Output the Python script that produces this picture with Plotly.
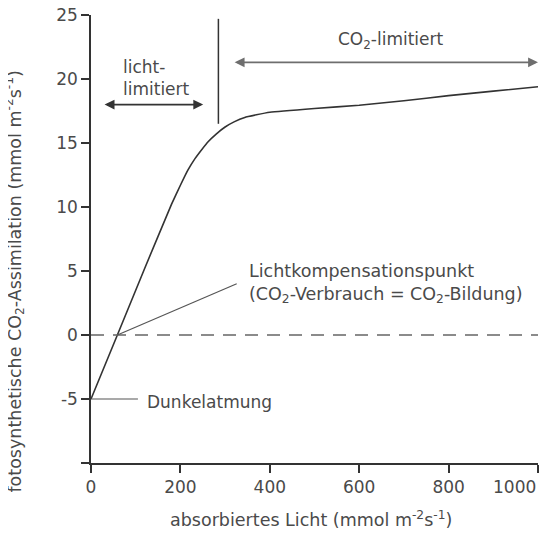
import plotly.graph_objects as go

# light response curve
light = [0, 59, 120, 180, 200, 217, 233, 248, 262, 280, 300, 320, 344, 370, 400,
         500, 600, 700, 800, 900, 1000]
assimilation = [-5, 0, 5.2, 10.2, 11.7, 12.9, 13.8, 14.5, 15.1, 15.7, 16.25, 16.65,
                17.0, 17.2, 17.4, 17.7, 17.95, 18.3, 18.7, 19.05, 19.4]

x_ticks = [0, 200, 400, 600, 800, 1000]
x_ticktext = ["0", "200", "400", "600", "800", ""]  # 1000 placed separately, right-aligned
y_ticks = [-10, -5, 0, 5, 10, 15, 20, 25]
y_ticktext = ["", "-5", "0", "5", "10", "15", "20", "25"]

comp_point = (59, 0)
dark_resp = -5
limit_border = 285

FONT = "DejaVu Sans"
TEXT = "#4a4a4a"
LINE = "#333333"

fig = go.Figure()
fig.add_trace(go.Scatter(
    x=light, y=assimilation, mode="lines",
    line=dict(color=LINE, width=1.6, shape="spline", smoothing=0.3),
    hoverinfo="skip", showlegend=False,
))

shapes = [
    # y = 0 reference line
    dict(type="line", x0=0, x1=1000, y0=0, y1=0, xref="x", yref="y",
         line=dict(color="#666666", width=1.4, dash="13px,9px")),
    # border between light- and CO2-limited
    dict(type="line", x0=limit_border, x1=limit_border, y0=16.5, y1=24.7,
         xref="x", yref="y", line=dict(color=LINE, width=1.5)),
    # pointer to compensation point
    dict(type="line", x0=comp_point[0], y0=comp_point[1], x1=326, y1=4.0,
         xref="x", yref="y", line=dict(color="#555555", width=1.2)),
    # pointer to dark respiration
    dict(type="line", x0=0, y0=dark_resp, x1=105, y1=dark_resp,
         xref="x", yref="y", line=dict(color="#555555", width=1.2)),
]

annotations = [
    # double arrow light-limited
    dict(x=251, y=18.0, ax=27, ay=18.0, xref="x", yref="y", axref="x", ayref="y",
         text="", showarrow=True, arrowhead=2, arrowside="end+start",
         arrowsize=1.1, arrowwidth=1.8, arrowcolor="#333333"),
    # arrow CO2-limited
    dict(x=1000, y=21.3, ax=318, ay=21.3, xref="x", yref="y", axref="x", ayref="y",
         text="", showarrow=True, arrowhead=2, arrowside="end+start",
         arrowsize=1.1, arrowwidth=1.8, arrowcolor="#6e6e6e"),
    dict(x=68, y=20.1, xref="x", yref="y", xanchor="left", yanchor="middle",
         align="left", showarrow=False, text="licht-<br>limitiert",
         font=dict(family=FONT, size=17, color=TEXT)),
    dict(x=671, y=23.0, xref="x", yref="y", xanchor="center", yanchor="middle",
         showarrow=False, text="CO<sub>2</sub>-limitiert",
         font=dict(family=FONT, size=17, color=TEXT)),
    dict(x=349, y=4.05, xref="x", yref="y", xanchor="left", yanchor="middle",
         align="left", showarrow=False,
         text="Lichtkompensationspunkt<br>(CO<sub>2</sub>-Verbrauch = CO<sub>2</sub>-Bildung)",
         font=dict(family=FONT, size=17.5, color=TEXT)),
    dict(x=121, y=-5.2, xref="x", yref="y", xanchor="left", yanchor="middle",
         showarrow=False, text="Dunkelatmung",
         font=dict(family=FONT, size=17, color=TEXT)),
    # last x tick label, kept inside the page
    dict(x=1000, y=0, xref="x", yref="paper", xanchor="right", yanchor="top",
         yshift=-12, showarrow=False, text="1000",
         font=dict(family=FONT, size=17, color=TEXT)),
    # axis titles
    dict(x=-0.17, y=0.405, xref="paper", yref="paper", textangle=-90,
         xanchor="center", yanchor="middle", showarrow=False,
         text="fotosynthetische CO<sub>2</sub>-Assimilation (mmol m<sup>-2</sup>s<sup>-1</sup>)",
         font=dict(family=FONT, size=17.5, color=TEXT)),
    dict(x=0.493, y=-0.125, xref="paper", yref="paper",
         xanchor="center", yanchor="middle", showarrow=False,
         text="absorbiertes Licht (mmol m<sup>-2</sup>s<sup>-1</sup>)",
         font=dict(family=FONT, size=17.5, color=TEXT)),
]

# page body adds an 8px offset, margins compensate for it
fig.update_layout(
    width=560, height=543,
    margin=dict(l=83, r=30, t=7, b=88),
    paper_bgcolor="white", plot_bgcolor="white",
    shapes=shapes, annotations=annotations,
    font=dict(family=FONT, size=17, color=TEXT),
    xaxis=dict(range=[0, 1000], tickvals=x_ticks, ticktext=x_ticktext,
               showgrid=False, zeroline=False,
               automargin=False, ticklabeloverflow="allow",
               showline=True, linecolor=LINE, linewidth=1.5,
               ticks="outside", ticklen=8, tickwidth=1.5, tickcolor=LINE,
               tickfont=dict(family=FONT, size=17, color=TEXT)),
    yaxis=dict(range=[-10, 25], tickvals=y_ticks, ticktext=y_ticktext,
               showgrid=False, zeroline=False,
               automargin=False, ticklabeloverflow="allow",
               showline=True, linecolor=LINE, linewidth=1.5,
               ticks="outside", ticklen=8, tickwidth=1.5, tickcolor=LINE,
               tickfont=dict(family=FONT, size=17, color=TEXT)),
)

fig.write_html("out.html")
